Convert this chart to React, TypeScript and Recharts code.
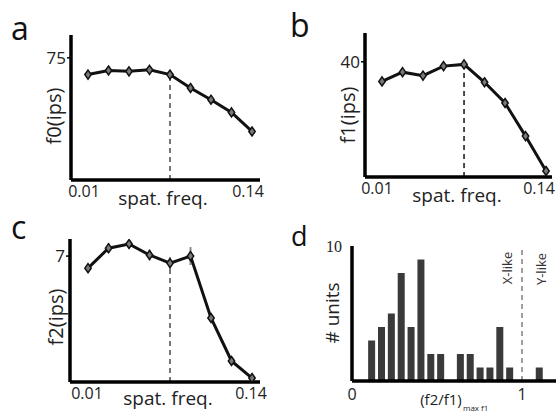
import React from 'react';
import {
  LineChart,
  Line,
  XAxis,
  YAxis,
  ReferenceLine,
  ErrorBar,
  ComposedChart,
  Bar,
} from 'recharts';

// ---- data ----
const freqIndex = [0, 1, 2, 3, 4, 5, 6, 7, 8];
const freqTickLabels = ['0.01', '0.14'];
const peakIndex = 4;

const f0Values = [64.7, 67.2, 66.7, 67.6, 64.7, 56.5, 49.3, 41.5, 29.8];
const f1Values = [33.2, 36.4, 35.2, 38.5, 39.1, 32.9, 25.7, 14.2, 2.1];
const f1Errors = [0.9, 1.0, 0.9, 1.0, 0.9, 0.6, 0.5, 0.5, 0.5];
const f2Values = [6.33, 7.44, 7.67, 7.06, 6.61, 7.0, 3.56, 1.17, 0.22];
const f2Errors = [0.15, 0.25, 0.2, 0.3, 0.32, 0.5, 0.2, 0.15, 0.1];

const ratioBins = [
  0.118, 0.176, 0.234, 0.292, 0.35, 0.408, 0.466, 0.524, 0.582, 0.64, 0.698,
  0.756, 0.814, 0.872, 0.93, 0.988, 1.046, 1.104,
];
const unitCounts = [3, 4, 5, 8, 4, 9, 2, 2, 0, 2, 2, 1, 1, 4, 1, 0, 0, 1];
const ratioDomain: [number, number] = [0, 1.2];
const unitDomain: [number, number] = [0, 10];
const ratioTicks = [0, 1];
const unitTicks = [10];
const xyBoundary = 1;

const FONT = '"Open Sans", sans-serif';

const dataA = freqIndex.map((i) => ({ i, v: f0Values[i] }));
const dataB = freqIndex.map((i) => ({ i, v: f1Values[i], e: f1Errors[i] }));
const dataC = freqIndex.map((i) => ({ i, v: f2Values[i], e: f2Errors[i] }));
const dataD = ratioBins.map((x, k) => ({ x, n: unitCounts[k] }));

const freqFormatter = (v: number) => (v === 0 ? freqTickLabels[0] : freqTickLabels[1]);

const Diamond = (props: any) => {
  const { cx, cy } = props;
  if (cx == null || cy == null) return null;
  return (
    <polygon
      points={`${cx},${cy - 4.5} ${cx + 3.2},${cy} ${cx},${cy + 4.5} ${cx - 3.2},${cy}`}
      fill="#7a7a7a"
      stroke="#111"
      strokeWidth={1.5}
    />
  );
};

const axisStroke = { stroke: '#000', strokeWidth: 3.5 };

function FreqPanel(props: {
  data: any[];
  width: number;
  height: number;
  margin: any;
  xDomain: [number, number];
  yDomain: [number, number];
  yTick: number;
  xAxisHeight: number;
  tickDx: number;
  peakValue: number;
  dashColor: string;
  withErrors: boolean;
}) {
  const p = props;
  return (
    <LineChart width={p.width} height={p.height} data={p.data} margin={p.margin}>
      <XAxis
        dataKey="i"
        type="number"
        domain={p.xDomain}
        allowDataOverflow
        ticks={[freqIndex[0], freqIndex[freqIndex.length - 1]]}
        tickFormatter={freqFormatter}
        axisLine={axisStroke}
        tickLine={false}
        tickSize={0}
        tickMargin={6}
        height={p.xAxisHeight}
        tick={{ fontSize: 16, fill: '#222', fontFamily: FONT, dx: p.tickDx }}
      />
      <YAxis
        type="number"
        domain={p.yDomain}
        allowDataOverflow
        ticks={[p.yTick]}
        width={40}
        axisLine={axisStroke}
        tickLine={{ stroke: '#000', strokeWidth: 1.5 }}
        tickSize={4}
        tickMargin={1}
        tick={{ fontSize: 17, fill: '#222', fontFamily: FONT }}
      />
      <ReferenceLine
        segment={[
          { x: freqIndex[peakIndex], y: p.yDomain[0] },
          { x: freqIndex[peakIndex], y: p.peakValue },
        ]}
        stroke={p.dashColor}
        strokeWidth={1.6}
        strokeDasharray="5 4"
      />
      <Line
        dataKey="v"
        stroke="#111"
        strokeWidth={3}
        dot={Diamond}
        activeDot={false}
        isAnimationActive={false}
      >
        {p.withErrors ? (
          <ErrorBar dataKey="e" direction="y" width={0} stroke="#888" strokeWidth={2} />
        ) : null}
      </Line>
    </LineChart>
  );
}

export default function App() {
  return (
    <div
      style={{
        position: 'absolute',
        left: 0,
        top: 0,
        width: 558,
        height: 413,
        background: '#fff',
        overflow: 'hidden',
      }}
    >
      <div style={{ position: 'absolute', left: 0, top: 0 }}>
        <FreqPanel
          data={dataA}
          width={279}
          height={206}
          margin={{ top: 35, right: 19, left: 31, bottom: 0 }}
          xDomain={[-0.83, 8.39]}
          yDomain={[0, 89]}
          yTick={75}
          xAxisHeight={26}
          tickDx={-4}
          peakValue={f0Values[peakIndex]}
          dashColor="#555"
          withErrors={false}
        />
      </div>
      <div style={{ position: 'absolute', left: 279, top: 0 }}>
        <FreqPanel
          data={dataB}
          width={279}
          height={206}
          margin={{ top: 33, right: 6, left: 46, bottom: 0 }}
          xDomain={[-0.83, 8.29]}
          yDomain={[0, 50]}
          yTick={40}
          xAxisHeight={29}
          tickDx={-5}
          peakValue={f1Values[peakIndex]}
          dashColor="#222"
          withErrors={true}
        />
      </div>
      <div style={{ position: 'absolute', left: 0, top: 206 }}>
        <FreqPanel
          data={dataC}
          width={279}
          height={207}
          margin={{ top: 33, right: 19, left: 30, bottom: 0 }}
          xDomain={[-0.88, 8.39]}
          yDomain={[0, 7.95]}
          yTick={7}
          xAxisHeight={31}
          tickDx={-1}
          peakValue={f2Values[peakIndex]}
          dashColor="#555"
          withErrors={true}
        />
      </div>
      <div style={{ position: 'absolute', left: 279, top: 206 }}>
        <ComposedChart
          width={279}
          height={207}
          data={dataD}
          margin={{ top: 40, right: 2, left: 43, bottom: 0 }}
        >
          <XAxis
            dataKey="x"
            type="number"
            domain={ratioDomain}
            ticks={ratioTicks}
            axisLine={axisStroke}
            tickLine={false}
            tickSize={0}
            tickMargin={8}
            height={32}
            tick={{ fontSize: 16, fill: '#222', fontFamily: FONT }}
          />
          <XAxis
            xAxisId="top"
            orientation="top"
            dataKey="x"
            type="number"
            domain={ratioDomain}
            ticks={ratioTicks}
            height={0}
            tick={false}
            tickLine={false}
            axisLine={axisStroke}
          />
          <YAxis
            type="number"
            domain={unitDomain}
            ticks={unitTicks}
            width={30}
            axisLine={axisStroke}
            tickLine={false}
            tickSize={0}
            tickMargin={10}
            tick={{ fontSize: 16, fill: '#222', fontFamily: '"Liberation Serif", serif' }}
          />
          <YAxis
            yAxisId="right"
            orientation="right"
            type="number"
            domain={unitDomain}
            ticks={unitTicks}
            width={0}
            tick={false}
            tickLine={false}
            axisLine={axisStroke}
          />
          <ReferenceLine
            x={xyBoundary}
            stroke="#888"
            strokeWidth={1.6}
            strokeDasharray="5 4"
          />
          <Bar dataKey="n" fill="#3a3a3a" barSize={7} isAnimationActive={false} />
          <Line
            xAxisId="top"
            yAxisId="right"
            dataKey="n"
            stroke="none"
            strokeWidth={0}
            dot={false}
            activeDot={false}
            legendType="none"
            isAnimationActive={false}
          />
        </ComposedChart>
      </div>
      <svg
        width={558}
        height={413}
        style={{ position: 'absolute', left: 0, top: 0, pointerEvents: 'none' }}
        fontFamily={FONT}
      >
        <text x={11} y={40} fontSize={32} fill="#111">a</text>
        <text x={290} y={37} fontSize={32} fill="#111">b</text>
        <text x={11} y={239} fontSize={32} fill="#111">c</text>
        <text x={291} y={246} fontSize={27} fill="#111">d</text>

        <text x={53} y={116} fontSize={20} fill="#222" textAnchor="middle" dominantBaseline="central" transform="rotate(-90 53 116)">f0(ips)</text>
        <text x={347} y={115} fontSize={20} fill="#222" textAnchor="middle" dominantBaseline="central" transform="rotate(-90 347 115)">f1(ips)</text>
        <text x={55} y={317} fontSize={20} fill="#222" textAnchor="middle" dominantBaseline="central" transform="rotate(-90 55 317)">f2(ips)</text>
        <text x={332} y={313} fontSize={19} fill="#222" textAnchor="middle" dominantBaseline="central" transform="rotate(-90 332 313)"># units</text>

        <text x={163} y={205} fontSize={19} fill="#222" textAnchor="middle">spat. freq.</text>
        <text x={457} y={202} fontSize={19} fill="#222" textAnchor="middle">spat. freq.</text>
        <text x={168} y={405} fontSize={19} fill="#222" textAnchor="middle">spat. freq.</text>

        <text x={441} y={405} fontSize={15} fill="#222" textAnchor="middle">(f2/f1)</text>
        <text x={463} y={411} fontSize={8} fill="#222">max f1</text>

        <text x={507} y={268} fontSize={13} fill="#333" textAnchor="middle" dominantBaseline="central" transform="rotate(-90 507 268)">X-like</text>
        <text x={541} y={269} fontSize={13} fill="#333" textAnchor="middle" dominantBaseline="central" transform="rotate(-90 541 269)">Y-like</text>
      </svg>
    </div>
  );
}
